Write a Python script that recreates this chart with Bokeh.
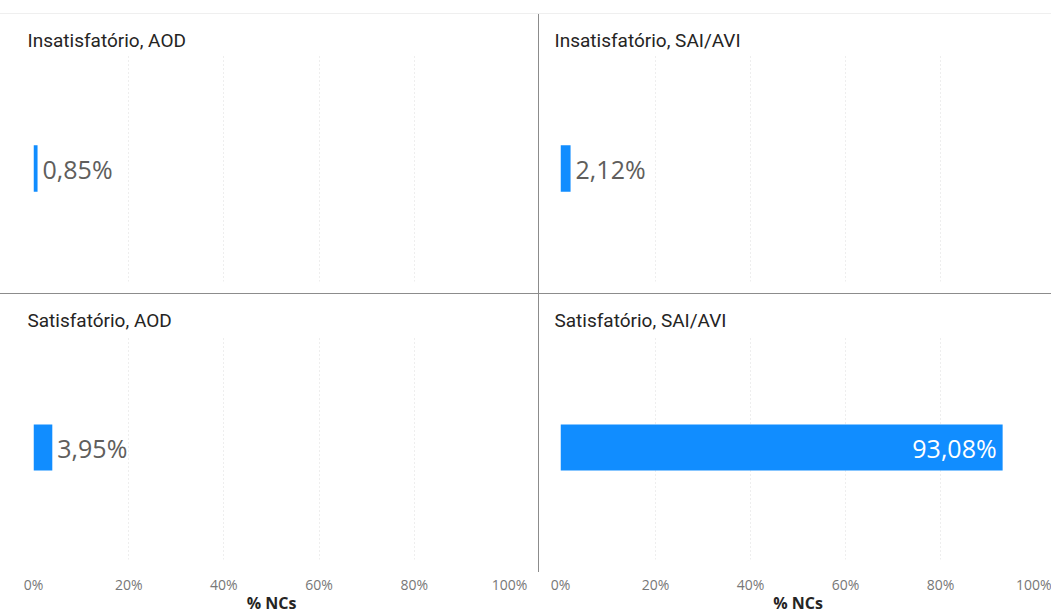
from bokeh.plotting import figure
from bokeh.layouts import row, column
from bokeh.models import (Range1d, FactorRange, NumeralTickFormatter, Div,
                          FixedTicker, ColumnDataSource)
from bokeh.core.properties import value
from bokeh.embed import file_html
from bokeh.resources import INLINE

# ---- data ----
status = ["Insatisfatório", "Insatisfatório", "Satisfatório", "Satisfatório"]
system = ["AOD", "SAI/AVI", "AOD", "SAI/AVI"]
pct_ncs = [0.85, 2.12, 3.95, 93.08]
tick_values = [0, 20, 40, 60, 80, 100]
axis_title = "% NCs"

BAR = "#118DFF"
TITLE_C = "#252423"
LABEL_C = "#605E5C"
TICK_C = "#777777"
DIV_C = "#8c8c8c"


def make_panel(i, width, b_left, b_right, height, b_top, b_bottom, show_axis):
    p = figure(width=width, height=height, output_backend="svg",
               toolbar_location=None, x_range=Range1d(0, 1),
               y_range=FactorRange(factors=[system[i]]),
               min_border_left=b_left, min_border_right=b_right,
               min_border_top=b_top, min_border_bottom=b_bottom)
    p.title.text = f"{status[i]}, {system[i]}"
    p.title.align = "left"
    p.title.offset = -6
    p.title.standoff = 8
    p.title.text_font = "Roboto"
    p.title.text_font_size = "19px"
    p.title.text_font_style = "normal"
    p.title.text_color = TITLE_C
    p.outline_line_color = None
    p.background_fill_color = "white"
    p.border_fill_color = "white"

    v = pct_ncs[i] / 100.0
    inside = v > 0.5
    src = ColumnDataSource(dict(
        y=[system[i]], right=[v],
        label=[f"{pct_ncs[i]:.2f}".replace(".", ",") + "%"]))
    p.hbar(y="y", left=0, right="right", height=0.205, source=src,
           fill_color=BAR, line_color=None)
    p.text(x="right", y="y", text="label", source=src,
           x_offset=-6 if inside else 5,
           text_align="right" if inside else "left",
           text_baseline="middle",
           text_color="white" if inside else LABEL_C,
           text_font=value("Open Sans"), text_font_size="25px")

    ticks = [t / 100 for t in tick_values]
    p.xaxis.ticker = FixedTicker(ticks=ticks)
    p.xgrid.ticker = FixedTicker(ticks=ticks)
    p.xgrid.grid_line_color = "#dcdcdc"
    p.xgrid.grid_line_dash = "1 3"
    p.ygrid.visible = False
    p.yaxis.visible = False
    if show_axis:
        ax = p.xaxis[0]
        ax.formatter = NumeralTickFormatter(format="0%")
        ax.axis_line_color = None
        ax.major_tick_line_color = None
        ax.minor_tick_line_color = None
        ax.major_label_text_font = "Open Sans"
        ax.major_label_text_font_size = "14px"
        ax.major_label_text_color = TICK_C
        ax.major_label_standoff = 9
        ax.axis_label = axis_title
        ax.axis_label_text_font = "Open Sans"
        ax.axis_label_text_font_size = "16px"
        ax.axis_label_text_font_style = "bold"
        ax.axis_label_text_color = TITLE_C
        ax.axis_label_standoff = -5
    else:
        p.xaxis.visible = False
    return p


TOP_H, BOT_H = 279, 322
LW, RW = 538, 512

p0 = make_panel(0, LW, 33, 29, TOP_H, 41, 12, False)
p1 = make_panel(1, RW, 21, 16, TOP_H, 41, 12, False)
p2 = make_panel(2, LW, 33, 29, BOT_H, 41, 55, True)
p3 = make_panel(3, RW, 21, 16, BOT_H, 41, 55, True)

top_line = Div(text="", width=LW + RW + 1, height=1, margin=(13, 0, 0, 0),
               styles={"background-color": "#efefef"})
h_line = Div(text="", width=LW + RW + 1, height=1, margin=0,
             styles={"background-color": DIV_C})
v_top = Div(text="", width=1, height=TOP_H, margin=0,
            styles={"background-color": DIV_C})
v_bot = Div(text="", width=1, height=278, margin=0,
            styles={"background-color": DIV_C})

layout = column(top_line,
                row(p0, v_top, p1),
                h_line,
                row(p2, v_bot, p3))

open("out.html", "w").write(file_html(layout, INLINE))
